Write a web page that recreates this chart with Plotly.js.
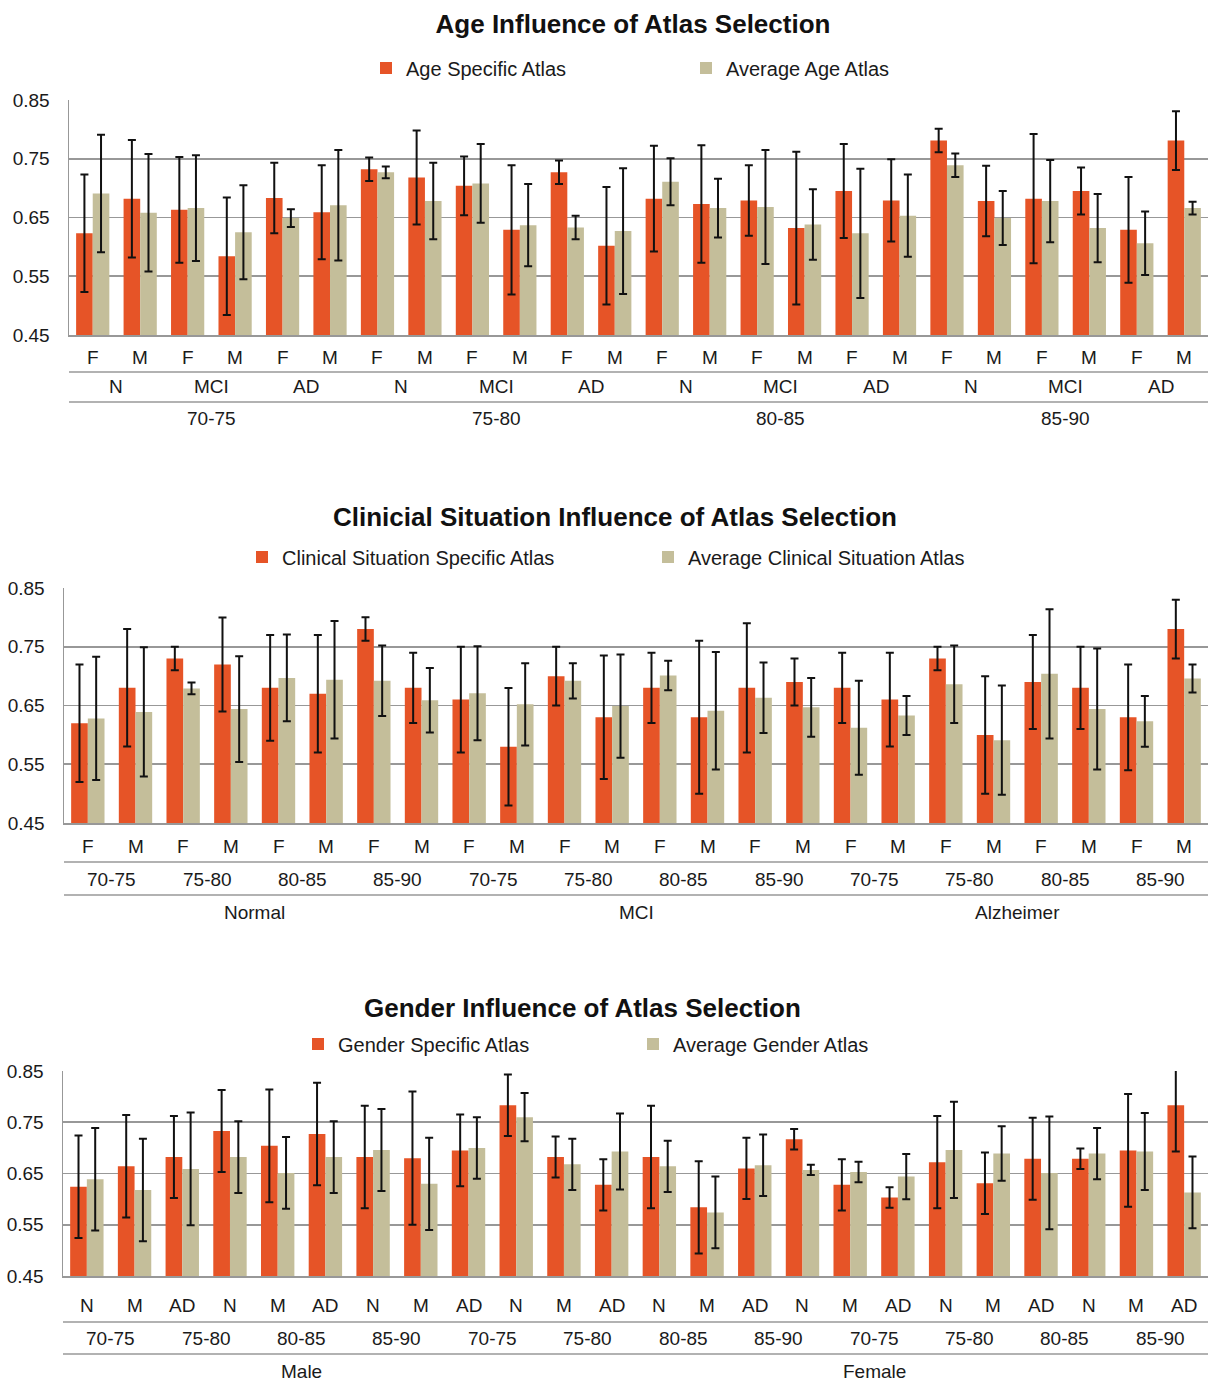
<!DOCTYPE html>
<html>
<head>
<meta charset="utf-8">
<script src="https://cdn.plot.ly/plotly-3.0.1.min.js"></script>
<style>html,body{margin:0;padding:0;background:#fff}#chart{width:1208px;height:1381px}</style>
</head>
<body>
<div id="chart"></div>
<script>
// ---------- DATA ----------
// Chart 1: Age influence
const ageLvl1 = ['F','M','F','M','F','M','F','M','F','M','F','M','F','M','F','M','F','M','F','M','F','M','F','M'];
const ageLvl2 = ['N','MCI','AD','N','MCI','AD','N','MCI','AD','N','MCI','AD'];
const ageLvl3 = ['70-75','75-80','80-85','85-90'];
const ageLvl3Span = [6, 6, 6, 6];
const ageSpecific = [0.623,0.682,0.663,0.584,0.683,0.659,0.732,0.718,0.704,0.629,0.727,0.602,0.682,0.673,0.679,0.632,0.695,0.679,0.781,0.678,0.682,0.695,0.629,0.781];
const ageSpecificErr = [0.10,0.10,0.09,0.10,0.06,0.08,0.02,0.08,0.05,0.11,0.02,0.10,0.09,0.10,0.06,0.13,0.08,0.07,0.02,0.06,0.11,0.04,0.09,0.05];
const ageAverage = [0.691,0.658,0.666,0.625,0.649,0.671,0.727,0.678,0.708,0.637,0.633,0.627,0.711,0.666,0.668,0.638,0.623,0.653,0.739,0.649,0.678,0.632,0.606,0.666];
const ageAverageErr = [0.10,0.10,0.09,0.08,0.015,0.094,0.01,0.065,0.067,0.07,0.02,0.107,0.04,0.05,0.097,0.06,0.11,0.07,0.02,0.046,0.07,0.058,0.054,0.011];

// Chart 2: Clinical situation influence
const clinLvl1 = ['F','M','F','M','F','M','F','M','F','M','F','M','F','M','F','M','F','M','F','M','F','M','F','M'];
const clinLvl2 = ['70-75','75-80','80-85','85-90','70-75','75-80','80-85','85-90','70-75','75-80','80-85','85-90'];
const clinLvl3 = ['Normal','MCI','Alzheimer'];
const clinLvl3Span = [8, 8, 8];
const clinSpecific = [0.62,0.68,0.73,0.72,0.68,0.67,0.78,0.68,0.66,0.58,0.70,0.63,0.68,0.63,0.68,0.69,0.68,0.66,0.73,0.60,0.69,0.68,0.63,0.78];
const clinSpecificErr = [0.10,0.10,0.02,0.08,0.09,0.10,0.02,0.06,0.09,0.10,0.05,0.105,0.06,0.13,0.11,0.04,0.06,0.08,0.02,0.10,0.08,0.07,0.09,0.05];
const clinAverage = [0.628,0.639,0.679,0.644,0.697,0.694,0.692,0.659,0.671,0.652,0.692,0.649,0.701,0.641,0.663,0.647,0.612,0.633,0.686,0.591,0.704,0.644,0.623,0.696];
const clinAverageErr = [0.105,0.11,0.01,0.09,0.074,0.10,0.06,0.055,0.08,0.07,0.03,0.088,0.025,0.10,0.06,0.05,0.08,0.033,0.066,0.093,0.11,0.103,0.043,0.024];

// Chart 3: Gender influence
const genLvl1 = ['N','M','AD','N','M','AD','N','M','AD','N','M','AD','N','M','AD','N','M','AD','N','M','AD','N','M','AD'];
const genLvl2 = ['70-75','75-80','80-85','85-90','70-75','75-80','80-85','85-90','70-75','75-80','80-85','85-90'];
const genLvl3 = ['Male','Female'];
const genLvl3Span = [10, 14];
const genSpecific = [0.624,0.664,0.682,0.733,0.704,0.727,0.682,0.680,0.695,0.783,0.682,0.628,0.682,0.584,0.660,0.717,0.628,0.603,0.672,0.631,0.679,0.679,0.695,0.783];
const genSpecificErr = [0.10,0.10,0.08,0.08,0.11,0.10,0.10,0.13,0.07,0.06,0.04,0.05,0.10,0.09,0.06,0.02,0.05,0.02,0.09,0.06,0.08,0.02,0.11,0.09];
const genAverage = [0.639,0.618,0.659,0.682,0.651,0.682,0.696,0.630,0.700,0.760,0.668,0.693,0.664,0.574,0.666,0.657,0.653,0.644,0.696,0.689,0.651,0.689,0.693,0.613];
const genAverageErr = [0.10,0.10,0.11,0.07,0.07,0.07,0.08,0.09,0.06,0.047,0.05,0.074,0.05,0.07,0.06,0.01,0.02,0.044,0.094,0.053,0.11,0.05,0.075,0.07];

// ---------- STYLE ----------
const ORANGE = '#E65427';
const TAN = '#C4BE9A';
const GRID = '#989898';
const FONT = 'Liberation Sans, Arial, sans-serif';
const H = 1381;
const py = px => 1 - px / H;

const idx = arr => arr.map((_, i) => i);

function errY(arr) {
  return {type: 'data', array: arr, visible: true, color: '#111', thickness: 2, width: 4};
}

const charts = [
  {key: '', xDom: 69, top: 100, bot: 335, legY: 68, title: 'Age Influence of Atlas Selection', titleX: 633, titleY: 24,
   names: ['Age Specific Atlas', 'Average Age Atlas'], legTextX: [406, 726],
   s: ageSpecific, se: ageSpecificErr, a: ageAverage, ae: ageAverageErr,
   l1: ageLvl1, l2: ageLvl2, l3: ageLvl3, l3span: ageLvl3Span, rows: [357, 387, 418], lines: [372, 402]},
  {key: '2', xDom: 64, top: 588, bot: 823, legY: 557, title: 'Clinicial Situation Influence of Atlas Selection', titleX: 615, titleY: 517,
   names: ['Clinical Situation Specific Atlas', 'Average Clinical Situation Atlas'], legTextX: [282, 688],
   s: clinSpecific, se: clinSpecificErr, a: clinAverage, ae: clinAverageErr,
   l1: clinLvl1, l2: clinLvl2, l3: clinLvl3, l3span: clinLvl3Span, rows: [846, 879, 912], lines: [862, 895]},
  {key: '3', xDom: 63, top: 1071, bot: 1276, legY: 1044, title: 'Gender Influence of Atlas Selection', titleX: 582, titleY: 1008,
   names: ['Gender Specific Atlas', 'Average Gender Atlas'], legTextX: [338, 673],
   s: genSpecific, se: genSpecificErr, a: genAverage, ae: genAverageErr,
   l1: genLvl1, l2: genLvl2, l3: genLvl3, l3span: genLvl3Span, rows: [1305, 1338, 1371], lines: [1322, 1354]}
];

const data = [];
const layout = {
  width: 1208, height: 1381,
  margin: {l: 0, r: 0, t: 0, b: 0},
  paper_bgcolor: '#fff', plot_bgcolor: '#fff',
  showlegend: true,
  barmode: 'group', bargap: 0.3, bargroupgap: 0,
  font: {family: FONT, size: 19, color: '#1a1a1a'},
  annotations: [], shapes: []
};

charts.forEach((c, ci) => {
  const xa = 'x' + c.key, ya = 'y' + c.key;
  const legA = ci === 0 ? 'legend' : 'legend' + (ci * 2 + 1);
  const legB = 'legend' + (ci * 2 + 2);
  const xs = idx(c.s);
  data.push({type: 'bar', x: xs, y: c.s, name: c.names[0], marker: {color: ORANGE},
             error_y: errY(c.se), xaxis: xa, yaxis: ya, legend: legA, showlegend: true, hoverinfo: 'y'});
  data.push({type: 'bar', x: xs, y: c.a, name: c.names[1], marker: {color: TAN},
             error_y: errY(c.ae), xaxis: xa, yaxis: ya, legend: legB, showlegend: true, hoverinfo: 'y'});

  const x0 = c.xDom / 1208;
  layout['xaxis' + c.key] = {domain: [x0, 1], range: [-0.5, 23.5], anchor: ya,
    showticklabels: false, showgrid: false, zeroline: false, ticks: '',
    showline: true, linecolor: GRID, linewidth: 1.5, fixedrange: true};
  layout['yaxis' + c.key] = {domain: [py(c.bot), py(c.top)], range: [0.45, 0.85], anchor: xa,
    tickvals: [0.45, 0.55, 0.65, 0.75, 0.85], tickformat: '.2f',
    showgrid: true, gridcolor: GRID, gridwidth: 1.6, zeroline: false,
    showline: true, linecolor: GRID, linewidth: 1.5, ticks: '', ticklabelstandoff: 14,
    tickfont: {family: FONT, size: 19, color: '#1a1a1a'}, fixedrange: true};

  // legends
  [legA, legB].forEach((lg, k) => {
    layout[lg] = {visible: true, orientation: 'h', x: (c.legTextX[k] - 40) / 1208, xanchor: 'left',
      y: py(c.legY), yanchor: 'middle', bgcolor: 'rgba(0,0,0,0)', borderwidth: 0,
      font: {family: FONT, size: 20, color: '#1a1a1a'}, itemclick: false, itemdoubleclick: false};
  });

  // title
  if (ci === 0) {
    layout.title = {text: '<b>' + c.title + '</b>', x: c.titleX / 1208, xanchor: 'center',
      y: py(c.titleY), yanchor: 'middle', yref: 'container', xref: 'container',
      font: {family: FONT, size: 26, color: '#111'}};
  } else {
    layout.annotations.push({text: '<b>' + c.title + '</b>', xref: 'paper', yref: 'paper',
      x: c.titleX / 1208, y: py(c.titleY), xanchor: 'center', yanchor: 'middle', showarrow: false,
      font: {family: FONT, size: 26, color: '#111'}});
  }

  // category labels (3 levels)
  const addLevel = (lv, spans, row) => {
    let start = 0;
    lv.forEach((txt, i) => {
      const span = spans[i];
      layout.annotations.push({text: txt, xref: xa, yref: 'paper',
        x: start + (span - 1) / 2, y: py(row), xanchor: 'center', yanchor: 'middle',
        showarrow: false, font: {family: FONT, size: 19, color: '#1a1a1a'}});
      start += span;
    });
  };
  addLevel(c.l1, c.l1.map(() => 1), c.rows[0]);
  addLevel(c.l2, c.l2.map(() => c.s.length / c.l2.length), c.rows[1]);
  addLevel(c.l3, c.l3span, c.rows[2]);

  // separator lines
  c.lines.forEach(ly => {
    layout.shapes.push({type: 'line', xref: 'paper', yref: 'paper', x0: x0, x1: 1,
      y0: py(ly), y1: py(ly), line: {color: GRID, width: 1.5}});
  });
});

Plotly.newPlot('chart', data, layout, {displayModeBar: false, staticPlot: true});
</script>
</body>
</html>
